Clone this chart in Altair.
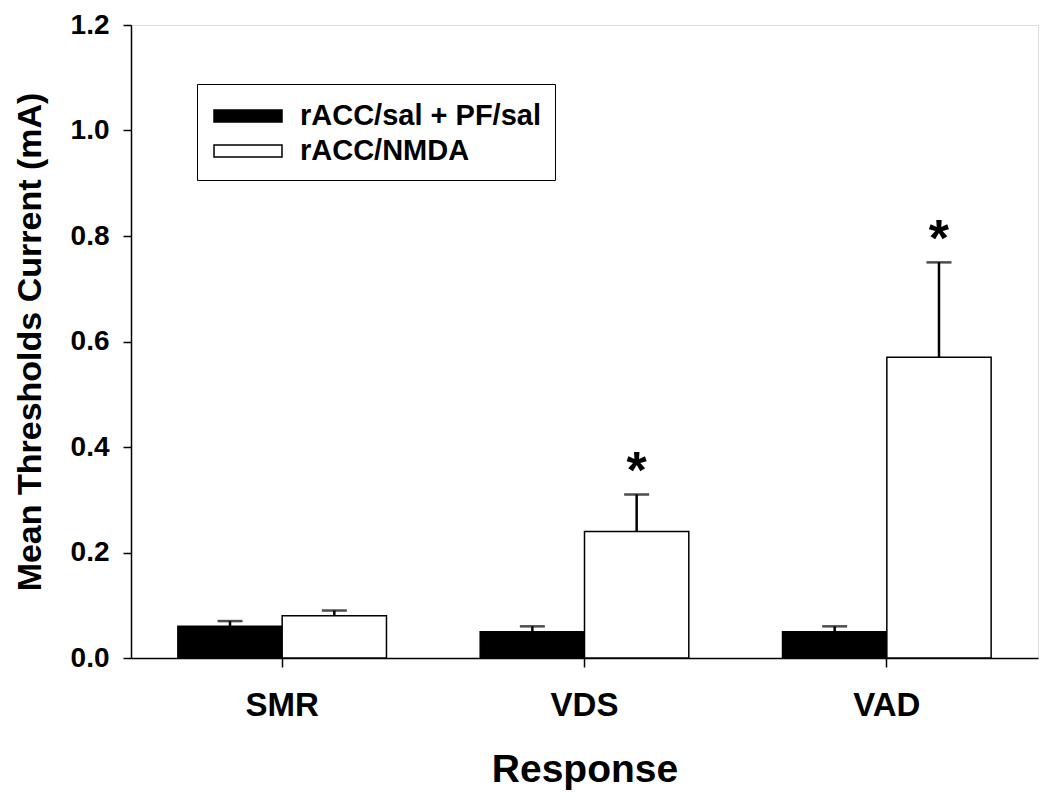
import altair as alt
import pandas as pd

responses = ["SMR", "VDS", "VAD"]
groups = ["rACC/sal + PF/sal", "rACC/NMDA"]
means_sal = [0.06, 0.05, 0.05]
errs_sal = [0.01, 0.01, 0.01]
means_nmda = [0.08, 0.24, 0.57]
errs_nmda = [0.01, 0.07, 0.18]
sig_sal = ["", "", ""]
sig_nmda = ["", "*", "*"]

rows = []
for i, r in enumerate(responses):
    rows.append({"Response": r, "Group": groups[0], "Mean": means_sal[i],
                 "Upper": means_sal[i] + errs_sal[i], "Sig": sig_sal[i]})
    rows.append({"Response": r, "Group": groups[1], "Mean": means_nmda[i],
                 "Upper": means_nmda[i] + errs_nmda[i], "Sig": sig_nmda[i]})
df = pd.DataFrame(rows)

FONT = "Liberation Sans"

x_enc = alt.X("Response:N", sort=responses,
              scale=alt.Scale(paddingInner=0.31, paddingOuter=0.155),
              axis=alt.Axis(title="Response", labelAngle=0, labelFontSize=33,
                            labelFontWeight="bold", labelFont=FONT, labelColor="black",
                            titleFontSize=39, titleFontWeight="bold", titleFont=FONT,
                            titleColor="black", tickSize=9, tickWidth=1.5,
                            tickColor="black", domainColor="black", domainWidth=1.5,
                            labelPadding=22, titlePadding=28))
xo_enc = alt.XOffset("Group:N", sort=groups,
                     scale=alt.Scale(paddingInner=0, paddingOuter=0))

y_scale = alt.Scale(domain=[0, 1.2], nice=False)
y_axis = alt.Axis(title="Mean Thresholds Current (mA)", values=[0, 0.2, 0.4, 0.6, 0.8, 1.0, 1.2],
                  format=".1f", grid=False, labelFontSize=28, labelFontWeight="bold",
                  labelFont=FONT, labelColor="black", titleFontSize=34,
                  titleFontWeight="bold", titleFont=FONT, titleColor="black",
                  tickSize=8, tickWidth=1.5, tickColor="black", domainColor="black",
                  domainWidth=1.5, labelPadding=14, titlePadding=23)

base = alt.Chart(df)

bars = base.mark_bar(stroke="black", strokeWidth=1.5).encode(
    x=x_enc,
    xOffset=xo_enc,
    y=alt.Y("Mean:Q", scale=y_scale, axis=y_axis),
    fill=alt.Fill("Group:N", sort=groups,
                  scale=alt.Scale(domain=groups, range=["black", "white"]),
                  legend=alt.Legend(title=None, orient="none", legendX=66, legendY=59,
                                    symbolType="M-2,-0.353L2,-0.353L2,0.353L-2,0.353Z",
                                    symbolSize=1156, symbolStrokeColor="black",
                                    symbolStrokeWidth=1.5, symbolOffset=19,
                                    labelFont=FONT,
                                    labelFontSize=29, labelFontWeight="bold",
                                    labelColor="black", labelOffset=34,
                                    strokeColor="black", fillColor="white",
                                    padding=14, rowPadding=2, labelLimit=400)),
)

rules = base.mark_rule(color="black", strokeWidth=2.5).encode(
    x=alt.X("Response:N", sort=responses),
    xOffset=alt.XOffset("Group:N", sort=groups),
    y=alt.Y("Mean:Q"),
    y2=alt.Y2("Upper:Q"),
)

caps = base.mark_tick(color="black", thickness=2.5, size=25, orient="horizontal").encode(
    x=alt.X("Response:N", sort=responses),
    xOffset=alt.XOffset("Group:N", sort=groups),
    y=alt.Y("Upper:Q"),
)

stars = base.transform_filter(alt.datum.Sig != "").mark_text(
    font=FONT, fontSize=52, fontWeight="bold", color="black", baseline="alphabetic",
    dy=-6).encode(
    x=alt.X("Response:N", sort=responses),
    xOffset=alt.XOffset("Group:N", sort=groups),
    y=alt.Y("Upper:Q"),
    text="Sig:N",
)

chart = alt.layer(bars, rules, caps, stars).properties(
    width=907, height=633,
    autosize=alt.AutoSizeParams(type="none"),
    padding={"left": 123, "top": 17, "right": 4, "bottom": 140},
).configure_view(stroke=None).configure(background="white")

chart.save("out.html", embed_options={"renderer": "svg", "actions": False})
